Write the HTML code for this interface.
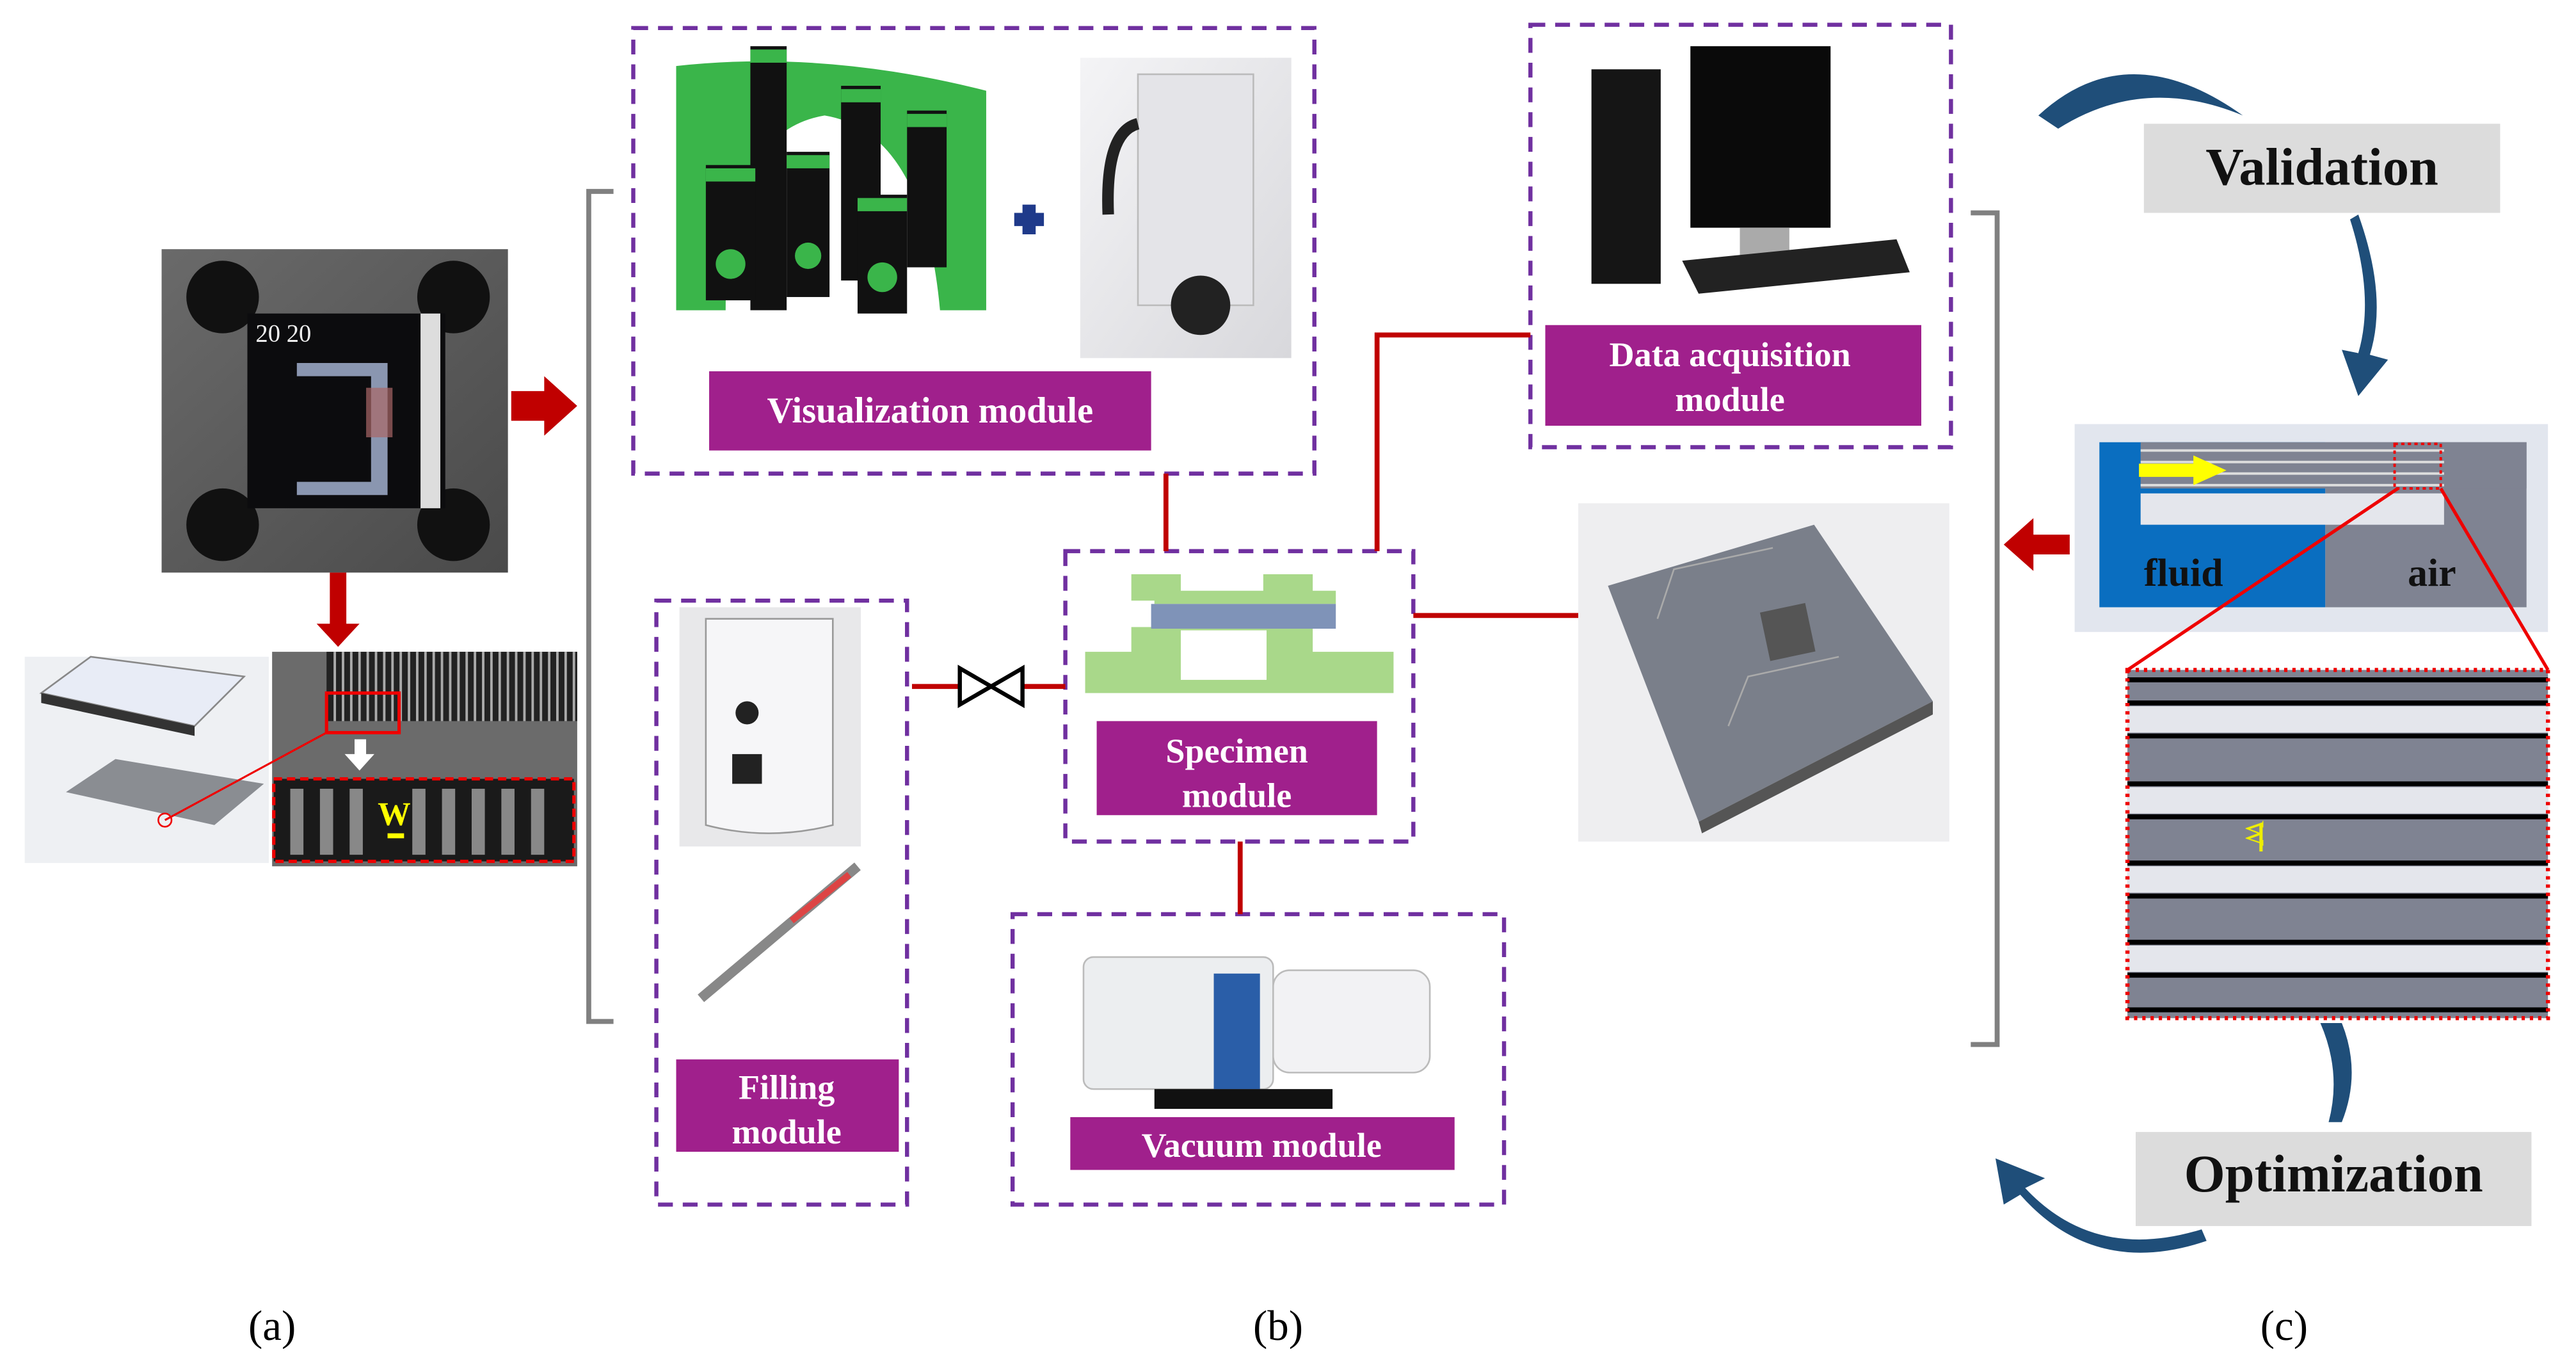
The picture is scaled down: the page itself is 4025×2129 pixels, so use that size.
<!DOCTYPE html>
<html><head><meta charset="utf-8"><style>html,body{margin:0;padding:0;background:#fff}svg{display:block}</style></head>
<body>
<svg width="4025" height="2129" viewBox="0 0 1562 826" preserveAspectRatio="none" xmlns="http://www.w3.org/2000/svg" font-family="Liberation Serif, serif">
<rect width="1562" height="826" fill="#fff"/>
<defs>
<linearGradient id="g1" x1="0" y1="0" x2="1" y2="1"><stop offset="0" stop-color="#6a6a6a"/><stop offset="1" stop-color="#4a4a4a"/></linearGradient>
<linearGradient id="g2" x1="0" y1="0" x2="1" y2="1"><stop offset="0" stop-color="#f4f4f6"/><stop offset="1" stop-color="#d8d8dc"/></linearGradient>
</defs>
<!-- (a) -->
<rect x="98" y="151" width="210" height="196" fill="url(#g1)"/>
<circle cx="135" cy="180" r="22" fill="#111"/><circle cx="275" cy="180" r="22" fill="#111"/>
<circle cx="135" cy="318" r="22" fill="#111"/><circle cx="275" cy="318" r="22" fill="#111"/>
<rect x="150" y="190" width="120" height="118" fill="#0c0c0e"/>
<rect x="255" y="190" width="12" height="118" fill="#ddd"/>
<text x="155" y="207" font-size="15" fill="#eee">20 20</text>
<path d="M180 220h55v80h-55v-8h45v-64h-45z" fill="#8a96b0"/>
<rect x="222" y="235" width="16" height="30" fill="#a66" opacity=".7"/>
<polygon points="200,347 210,347 210,378 218,378 205,392 192,378 200,378" fill="#c00000"/>
<polygon points="310,237 330,237 330,228 350,246 330,264 330,255 310,255" fill="#c00000"/>
<rect x="15" y="398" width="148" height="125" fill="#eef0f3"/>
<polygon points="25,420 55,398 148,410 118,440" fill="#e8ecf6" stroke="#888"/>
<polygon points="25,420 118,440 118,446 25,426" fill="#333"/>
<polygon points="40,480 70,460 160,475 130,500" fill="#8a8d92"/>
<rect x="165" y="395" width="185" height="130" fill="#6b6b6b"/>
<rect x="198" y="395" width="152" height="42" fill="#222"/>
<g stroke="#aaa" stroke-width="1.5">
<path d="M203 395v42M208 395v42M213 395v42M218 395v42M223 395v42M228 395v42M233 395v42M238 395v42M243 395v42M248 395v42M253 395v42M258 395v42M263 395v42M268 395v42M273 395v42M278 395v42M283 395v42M288 395v42M293 395v42M298 395v42M303 395v42M308 395v42M313 395v42M318 395v42M323 395v42M328 395v42M333 395v42M338 395v42M343 395v42M348 395v42"/></g>
<rect x="198" y="420" width="44" height="24" fill="none" stroke="#e00" stroke-width="2"/>
<line x1="100" y1="497" x2="198" y2="444" stroke="#e00" stroke-width="1.2"/>
<circle cx="100" cy="497" r="4" fill="none" stroke="#e00"/>
<polygon points="215,448 222,448 222,457 227,457 218,467 209,457 215,457" fill="#fff"/>
<rect x="166" y="472" width="182" height="50" fill="#1a1a1a" stroke="#e00" stroke-width="2" stroke-dasharray="5,3"/>
<g fill="#888"><rect x="176" y="478" width="8" height="40"/><rect x="194" y="478" width="8" height="40"/><rect x="212" y="478" width="8" height="40"/><rect x="250" y="478" width="8" height="40"/><rect x="268" y="478" width="8" height="40"/><rect x="286" y="478" width="8" height="40"/><rect x="304" y="478" width="8" height="40"/><rect x="322" y="478" width="8" height="40"/></g>
<text x="229" y="500" font-size="20" font-weight="bold" fill="#ff0">W</text>
<rect x="235" y="505" width="10" height="3" fill="#ff0"/>
<!-- brackets -->
<path d="M372 116H357V619H372" fill="none" stroke="#808080" stroke-width="3"/>
<path d="M1195 129H1211V633H1195" fill="none" stroke="#808080" stroke-width="3"/>
<!-- dashed boxes -->
<g fill="none" stroke="#7030a0" stroke-width="2.5" stroke-dasharray="9,6">
<rect x="384" y="17" width="413" height="270"/>
<rect x="928" y="15" width="255" height="256"/>
<rect x="646" y="334" width="211" height="176"/>
<rect x="398" y="364" width="152" height="366"/>
<rect x="614" y="554" width="298" height="176"/>
</g>
<!-- red connectors -->
<g stroke="#c00000" stroke-width="3" fill="none">
<path d="M707 287V334"/><path d="M835 334V203H928"/>
<path d="M553 416H646"/><path d="M857 373H957"/><path d="M752 510V554"/>
</g>
<path d="M582 405L620 427V405L582 427Z" fill="#fff" stroke="#000" stroke-width="2.5"/>
<!-- visualization images -->
<path d="M410 40 Q500 30 598 55 L598 188 L570 188 Q560 80 500 70 Q440 80 440 188 L410 188Z" fill="#3ab54a"/>
<g fill="#111"><rect x="455" y="28" width="22" height="160"/><rect x="510" y="52" width="24" height="118"/><rect x="550" y="67" width="24" height="95"/><rect x="428" y="100" width="30" height="82"/><rect x="477" y="92" width="26" height="88"/><rect x="520" y="118" width="30" height="72"/></g>
<g fill="#3ab54a"><rect x="455" y="30" width="22" height="8"/><rect x="510" y="54" width="24" height="8"/><rect x="550" y="69" width="24" height="8"/><rect x="428" y="102" width="30" height="8"/><rect x="477" y="94" width="26" height="8"/><rect x="520" y="120" width="30" height="8"/><circle cx="443" cy="160" r="9"/><circle cx="490" cy="155" r="8"/><circle cx="535" cy="168" r="9"/></g>
<path d="M615 133h18M624 124v18" stroke="#1f3a8a" stroke-width="8"/>
<rect x="655" y="35" width="128" height="182" fill="url(#g2)"/>
<rect x="690" y="45" width="70" height="140" fill="#e4e4e8" stroke="#bbb"/>
<path d="M690 75 Q670 80 672 130" stroke="#222" stroke-width="7" fill="none"/>
<circle cx="728" cy="185" r="18" fill="#222"/>
<rect x="430" y="225" width="268" height="48" fill="#a0208c"/>
<text x="564" y="256" font-size="22" font-weight="bold" fill="#fff" text-anchor="middle">Visualization module</text>
<!-- data acq -->
<rect x="965" y="42" width="42" height="130" fill="#151515"/>
<rect x="1025" y="28" width="85" height="110" fill="#0a0a0a"/>
<rect x="1055" y="138" width="30" height="24" fill="#aaa"/>
<polygon points="1020,158 1150,145 1158,165 1030,178" fill="#222"/>
<rect x="937" y="197" width="228" height="61" fill="#a0208c"/>
<text x="1049" y="222" font-size="21" font-weight="bold" fill="#fff" text-anchor="middle">Data acquisition</text>
<text x="1049" y="249" font-size="21" font-weight="bold" fill="#fff" text-anchor="middle">module</text>
<!-- specimen -->
<g fill="#a9d88a"><rect x="686" y="348" width="30" height="16"/><rect x="766" y="348" width="30" height="16"/><rect x="700" y="358" width="110" height="8"/><rect x="686" y="380" width="110" height="34"/><rect x="658" y="395" width="187" height="25"/></g>
<rect x="698" y="366" width="112" height="15" fill="#7f93b8"/>
<rect x="716" y="382" width="52" height="30" fill="#fff"/>
<rect x="665" y="437" width="170" height="57" fill="#a0208c"/>
<text x="750" y="462" font-size="21" font-weight="bold" fill="#fff" text-anchor="middle">Specimen</text>
<text x="750" y="489" font-size="21" font-weight="bold" fill="#fff" text-anchor="middle">module</text>
<!-- filling -->
<rect x="412" y="368" width="110" height="145" fill="#e8e8ea"/>
<path d="M428 375 H505 V500 Q466 510 428 500Z" fill="#f6f6f8" stroke="#999"/>
<rect x="444" y="457" width="18" height="18" fill="#222"/>
<circle cx="453" cy="432" r="7" fill="#222"/>
<line x1="425" y1="605" x2="520" y2="525" stroke="#888" stroke-width="6"/>
<line x1="480" y1="558" x2="515" y2="530" stroke="#d44" stroke-width="4"/>
<rect x="410" y="642" width="135" height="56" fill="#a0208c"/>
<text x="477" y="666" font-size="21" font-weight="bold" fill="#fff" text-anchor="middle">Filling</text>
<text x="477" y="693" font-size="21" font-weight="bold" fill="#fff" text-anchor="middle">module</text>
<!-- vacuum -->
<rect x="657" y="580" width="115" height="80" rx="6" fill="#eceef0" stroke="#bbb"/>
<rect x="772" y="588" width="95" height="62" rx="10" fill="#f2f2f4" stroke="#bbb"/>
<rect x="736" y="590" width="28" height="70" fill="#2a5ea8"/>
<rect x="700" y="660" width="108" height="12" fill="#111"/>
<rect x="649" y="677" width="233" height="32" fill="#a0208c"/>
<text x="765" y="701" font-size="21" font-weight="bold" fill="#fff" text-anchor="middle">Vacuum  module</text>
<!-- specimen render -->
<rect x="957" y="305" width="225" height="205" fill="#eeeef0"/>
<polygon points="975,355 1100,318 1172,425 1030,498" fill="#7a7f8a"/>
<polygon points="1030,498 1172,425 1172,433 1032,505" fill="#555"/>
<rect x="1070" y="368" width="28" height="30" fill="#555" transform="rotate(-12 1084 383)"/>
<path d="M1005 375 L1015 345 L1075 332 M1048 440 L1060 410 L1115 398" stroke="#aaa" fill="none"/>
<!-- (c) -->
<polygon points="1215,330 1233,314 1233,324 1255,324 1255,336 1233,336 1233,346" fill="#c00000"/>
<rect x="1258" y="257" width="287" height="126" fill="#e2e6ee"/>
<rect x="1273" y="268" width="137" height="100" fill="#0a6ec0"/>
<rect x="1410" y="268" width="122" height="100" fill="#7f8392"/>
<rect x="1298" y="268" width="234" height="28" fill="#7f8392"/>
<g stroke="#ddd" stroke-width="1.5"><path d="M1298 273H1482M1298 280H1482M1298 287H1482M1298 294H1482"/></g>
<rect x="1298" y="299" width="184" height="19" fill="#e4e6ec"/>
<polygon points="1297,281 1330,281 1330,276 1350,285 1330,294 1330,289 1297,289" fill="#ff0"/>
<rect x="1452" y="269" width="28" height="27" fill="none" stroke="#e00" stroke-width="1.5" stroke-dasharray="2,2"/>
<text x="1300" y="355" font-size="24" font-weight="bold" fill="#111">fluid</text>
<text x="1460" y="355" font-size="24" font-weight="bold" fill="#111">air</text>
<path d="M1454 296L1290 406M1480 296L1545 406" stroke="#e00" stroke-width="2"/>
<rect x="1290" y="406" width="255" height="211" fill="#7f8392"/>
<g fill="#e4e6ec"><rect x="1290" y="428" width="255" height="16"/><rect x="1290" y="477" width="255" height="16"/><rect x="1290" y="525" width="255" height="16"/><rect x="1290" y="573" width="255" height="16"/></g>
<g stroke="#000" stroke-width="3"><path d="M1290 412H1545M1290 426H1545M1290 446H1545M1290 475H1545M1290 495H1545M1290 523H1545M1290 543H1545M1290 571H1545M1290 591H1545M1290 612H1545"/></g>
<rect x="1290" y="406" width="255" height="211" fill="none" stroke="#e00" stroke-width="2.5" stroke-dasharray="2,3"/>
<text x="1362" y="505" font-size="16" fill="#ee0" transform="rotate(90 1362 505)" text-anchor="middle">W</text>
<rect x="1370" y="499" width="2" height="17" fill="#ee0"/>
<rect x="1300" y="75" width="216" height="54" fill="#dcdcdc"/>
<text x="1408" y="112" font-size="32" font-weight="bold" fill="#111" text-anchor="middle">Validation</text>
<rect x="1295" y="686" width="240" height="57" fill="#dcdcdc"/>
<text x="1415" y="722" font-size="32" font-weight="bold" fill="#111" text-anchor="middle">Optimization</text>
<g fill="#1f4e79">
<path d="M1236 70 Q1290 20 1360 70 Q1300 45 1248 78Z"/>
<path d="M1430 130 Q1448 180 1437 215 L1448 218 L1430 240 L1420 212 L1430 214 Q1440 180 1425 133Z"/>
<path d="M1407 620 Q1420 650 1412 680 L1420 680 Q1432 650 1420 620Z"/>
<path d="M1335 745 Q1270 765 1228 720 L1240 714 L1210 702 L1215 730 L1225 724 Q1270 775 1338 752Z"/>
</g>
<text x="165" y="812" font-size="26" text-anchor="middle" fill="#000">(a)</text>
<text x="775" y="812" font-size="26" text-anchor="middle" fill="#000">(b)</text>
<text x="1385" y="812" font-size="26" text-anchor="middle" fill="#000">(c)</text>
</svg>
</body></html>
